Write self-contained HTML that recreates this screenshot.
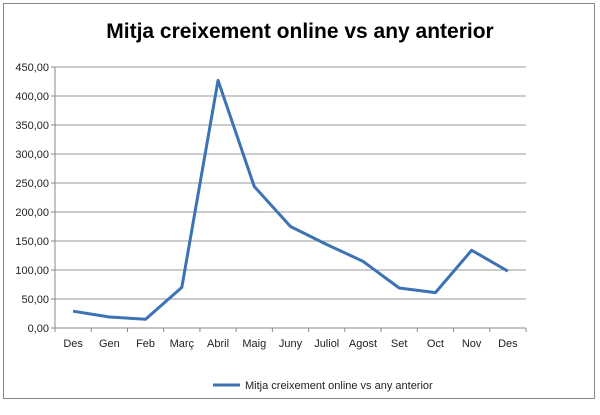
<!DOCTYPE html>
<html><head><meta charset="utf-8"><style>
body{margin:0;background:#fff;font-family:"Liberation Sans",sans-serif}
svg text{font-family:"Liberation Sans",sans-serif}
</style></head><body>
<svg width="600" height="410" id="chart">
<rect x="3.5" y="3.5" width="591" height="395" fill="#fff" stroke="#888"/>
<text x="300" y="38" text-anchor="middle" font-size="21" font-weight="bold" fill="#000">Mitja creixement online vs any anterior</text>
<g id="grid"></g><g id="axes"></g><g id="series"></g>
<g>
<line x1="213" y1="385" x2="240" y2="385" stroke="#3d72b4" stroke-width="3"/>
<text x="245" y="389" font-size="11" fill="#222">Mitja creixement online vs any anterior</text>
</g>
</svg>
<script>
const categories=["Des","Gen","Feb","Març","Abril","Maig","Juny","Juliol","Agost","Set","Oct","Nov","Des"];
const values=[29,19,15,70,427,244,175,144,115,69,61,134,98];
const yTicks=[0,50,100,150,200,250,300,350,400,450];
const L=55,R=526,T=67,B=328,YMAX=450;
const NS="http://www.w3.org/2000/svg";
const xs=i=>L+(R-L)/categories.length*(i+0.5);
const ys=v=>B-(B-T)*v/YMAX;
function mk(t,a,p){const e=document.createElementNS(NS,t);for(const k in a)e.setAttribute(k,a[k]);p.appendChild(e);return e;}
const grid=document.getElementById('grid'),axes=document.getElementById('axes'),ser=document.getElementById('series');
yTicks.forEach(v=>{
 const g=mk('line',{x1:L,x2:R,y1:ys(v),y2:ys(v),stroke:v===0?'#888':'#999','stroke-width':1},grid);
 
 
 const t=mk('text',{x:L-6,y:ys(v)+4,'text-anchor':'end','font-size':11,fill:'#222'},axes);
 t.textContent=v.toFixed(2).replace('.',',');
 
 
 mk('line',{x1:L-4,x2:L,y1:ys(v),y2:ys(v),stroke:'#888'},axes);
});
mk('line',{x1:L,x2:L,y1:T,y2:B,stroke:'#888'},axes);
for(let i=0;i<=categories.length;i++){const x=L+(R-L)/categories.length*i;mk('line',{x1:x,x2:x,y1:B,y2:B+4,stroke:'#888'},axes);}
categories.forEach((c,i)=>{
 const t=mk('text',{x:xs(i),y:B+19,'text-anchor':'middle','font-size':11,fill:'#222'},axes);
 t.textContent=c;
 
 
});
const p=mk('polyline',{points:values.map((v,i)=>xs(i)+','+ys(v)).join(' '),fill:'none',stroke:'#3d72b4','stroke-width':3,'stroke-linejoin':'round'},ser);


</script>
</body></html>
